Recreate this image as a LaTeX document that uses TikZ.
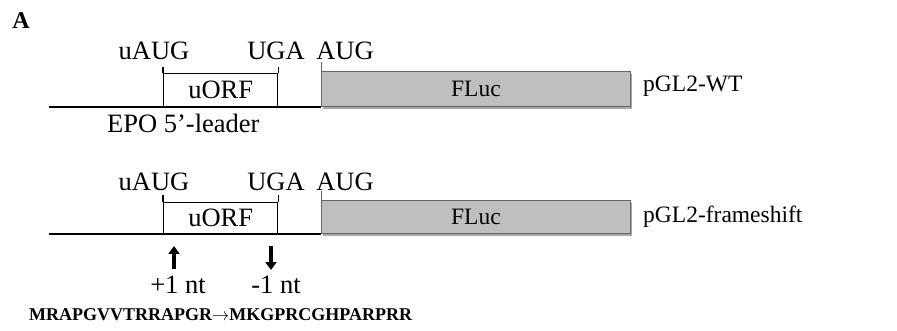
\documentclass[tikz,border=0pt]{standalone}
\usepackage{fontspec}
\setmainfont{Liberation Serif}
\usetikzlibrary{arrows.meta,shadows}
\tikzset{
  lbl/.style={inner sep=0pt, font=\fontsize{26.5}{30}\selectfont},
  namelbl/.style={inner sep=0pt, anchor=west, font=\fontsize{23.5}{27}\selectfont},
  mrna/.style={line width=1.5pt},
  orfbox/.style={draw, line width=1.4pt, inner sep=0pt, anchor=south west, font=\fontsize{26.5}{30}\selectfont},
  tick/.style={line width=1.2pt},
  flucbox/.style={draw=gray!80!black, line width=0.8pt, fill=black!25, inner sep=0pt,
    minimum width=309pt, anchor=south west, font=\fontsize{23.5}{27}\selectfont,
    drop shadow={shadow xshift=1.5pt, shadow yshift=-2pt, opacity=0.35, fill=black}},
  shiftarrow/.style={line width=3.6pt, -{Triangle[width=11pt,length=8pt]}},
}
\begin{document}
\begin{tikzpicture}[x=1pt,y=-1pt]
\useasboundingbox (0,0) rectangle (897,331);

\node[inner sep=0pt, font=\fontsize{24}{26}\selectfont\bfseries] (panel) at (21,21) {A};

% ---- wild-type construct ----
\node[lbl] (uaug1) at (154,51) {uAUG};
\node[lbl] (uga1) at (276,51) {UGA};
\node[lbl] (aug1) at (345,51) {AUG};
\node[orfbox, minimum width=114pt, minimum height=33pt] (orf1) at (163,107) {uORF};
\node[flucbox, minimum height=35pt] (fluc1) at (321,107) {FLuc};
\coordinate (start1) at (49,107);
\draw[mrna] (start1) -- (fluc1.south west);
\draw[tick] (orf1.north west) -- ++(0,-6);
\draw[tick] (orf1.north east) -- ++(0,-6);
\draw[line width=0.8pt, gray!80!black] (fluc1.north west) -- ++(0,-9);
\node[namelbl] (wt) at (643,86) {pGL2-WT};
\node[lbl, anchor=west] (leader) at (107,123) {EPO 5’-leader};

% ---- frameshift construct ----
\node[lbl] (uaug2) at (154,182) {uAUG};
\node[lbl] (uga2) at (276,182) {UGA};
\node[lbl] (aug2) at (345,182) {AUG};
\node[orfbox, minimum width=114pt, minimum height=31pt] (orf2) at (163,234) {uORF};
\node[flucbox, minimum height=33pt] (fluc2) at (321,234) {FLuc};
\coordinate (start2) at (49,234);
\draw[mrna] (start2) -- (fluc2.south west);
\draw[tick] (orf2.north west) -- ++(0,-7);
\draw[tick] (orf2.north east) -- ++(0,-7);
\draw[line width=0.8pt, gray!80!black] (fluc2.north west) -- ++(0,-9);
\node[namelbl] (fs) at (643,217) {pGL2-frameshift};

% ---- frameshift positions ----
\coordinate (upbase) at (174,269);
\coordinate (uptip) at (174,246);
\coordinate (downbase) at (271,246);
\coordinate (downtip) at (271,270);
\draw[shiftarrow] (upbase) -- (uptip);
\draw[shiftarrow] (downbase) -- (downtip);
\node[lbl] (plus) at (178,285) {+1 nt};
\node[lbl] (minus) at (276,285) {-1 nt};

\node[inner sep=0pt, anchor=west, font=\fontsize{18}{20}\selectfont\bfseries] (seq) at (29,315)
  {MRAPGVVTRRAPGR\(\rightarrow\)MKGPRCGHPARPRR};
\end{tikzpicture}
\end{document}
